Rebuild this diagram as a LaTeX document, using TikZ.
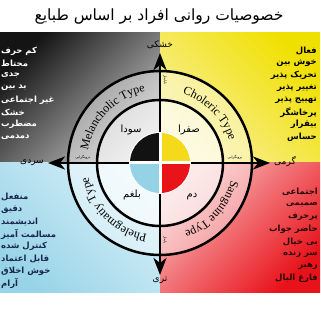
\documentclass[tikz,border=0pt]{standalone}
\usepackage{fontspec}
\usetikzlibrary{arrows.meta,decorations.text,calc}
\newfontfamily\fa[Script=Arabic]{DejaVu Sans}
\newfontfamily\tnr{Liberation Serif}
\TeXXeTstate=1
\definecolor{tlA}{HTML}{141414}
\definecolor{tlB}{HTML}{C4C4C4}
\definecolor{trA}{HTML}{F0E000}
\definecolor{trB}{HTML}{F9F0A0}
\definecolor{blA}{HTML}{98D4E8}
\definecolor{blB}{HTML}{D8F0F8}
\definecolor{brA}{HTML}{E8121A}
\definecolor{brB}{HTML}{F8BCBC}
\definecolor{dY}{HTML}{F4DA1A}
\definecolor{dB}{HTML}{96D2E6}
\definecolor{dR}{HTML}{E8141A}
\definecolor{navy}{HTML}{1A2850}
\definecolor{darkred}{HTML}{2A0808}
\tikzset{
  listfont/.style={font=\fa\bfseries\fontsize{8.5}{9}\selectfont, inner sep=0pt},
  axislabel/.style={font=\fa\fontsize{9}{10}\selectfont, inner sep=1pt},
  humour/.style={font=\fa\fontsize{10}{11}\selectfont, inner sep=1pt},
  tiny/.style={font=\fa\fontsize{3.6}{4}\selectfont, inner sep=0pt},
  ring/.style={line width=2.5pt},
  axisline/.style={line width=2.5pt, {Stealth[length=17pt,width=13pt,inset=5pt]}-{Stealth[length=17pt,width=13pt,inset=5pt]}},
  typename/.style={decorate, decoration={text along path, text align=center, text={|\tnr\fontsize{12}{13}\selectfont|#1}}},
}
\begin{document}
\begin{tikzpicture}[x=1pt,y=1pt]
\useasboundingbox (0,0) rectangle (320,320);
\fill[white] (0,0) rectangle (320,320);
\coordinate (C) at (160,157);
% quadrant backgrounds
\shade[top color=tlA, bottom color=tlB, shading angle=45] (0,157) rectangle (160,287);
\shade[top color=trA, bottom color=trB, shading angle=-45] (160,157) rectangle (320,287);
\shade[top color=blA, bottom color=blB, shading angle=135] (0,27) rectangle (160,157);
\shade[top color=brA, bottom color=brB, shading angle=-135] (160,27) rectangle (320,157);
% lighter rings
\fill[white, opacity=0.38] (C) circle (92);
\fill[white, opacity=0.5] (C) circle (63);
% title
\node (title) at (159,303) {\fa\fontsize{15.5}{16}\selectfont\beginR خصوصیات روانی افراد بر اساس طبایع\endR};
% axes
\coordinate (L) at (48,157);
\coordinate (R) at (270,157);
\coordinate (T) at (160,267);
\coordinate (B) at (160,45);
\draw[axisline] (L) -- (R);
\draw[axisline] (B) -- (T);
\draw[ring] (C) circle (92);
\draw[ring] (C) circle (63);
% inner disc
\fill[white] (C) circle (31);
\fill[black!93] (C) -- ++(90:30) arc[start angle=90, end angle=180, radius=30] -- cycle;
\fill[dY] (C) -- ++(0:30) arc[start angle=0, end angle=90, radius=30] -- cycle;
\fill[dB] (C) -- ++(180:30) arc[start angle=180, end angle=270, radius=30] -- cycle;
\fill[dR] (C) -- ++(270:30) arc[start angle=270, end angle=360, radius=30] -- cycle;
\draw[white, line width=3pt] ($(C)+(-31,0)$) -- ($(C)+(31,0)$);
\draw[white, line width=3pt] ($(C)+(0,-31)$) -- ($(C)+(0,31)$);
% axis labels
\node[axislabel] (dry) at (160,275) {\beginR خشکی\endR};
\node[axislabel] (wet) at (160,40) {\beginR تری\endR};
\node[axislabel] (cold) at (32,157) {\beginR سردی\endR};
\node[axislabel] (hot) at (285,158) {\beginR گرمی\endR};
% humour names
\node[humour] (sauda) at (131,190) {\beginR سودا\endR};
\node[humour] (safra) at (189,190) {\beginR صفرا\endR};
\node[humour] (balgham) at (132,125) {\beginR بلغم\endR};
\node[humour] (dam) at (192,123) {\beginR دم\endR};
% small labels
\node[tiny] (introL) at (83,163) {\beginR درونگرایی\endR};
\node[tiny] (extroR) at (235,163) {\beginR برونگرایی\endR};
\node[tiny, rotate=-90] (unst) at (165,240) {\beginR ناپایدار\endR};
\node[tiny, rotate=-90] (stab) at (165,80) {\beginR پایدار\endR};
% curved type names
\path[typename={Melancholic Type}] ($(C)+(174:73)$) arc[start angle=174, end angle=98, radius=73];
\path[typename={Choleric Type}] ($(C)+(84:73)$) arc[start angle=84, end angle=6, radius=73];
\path[typename={Sanguine Type}] ($(C)+(-3:73)$) arc[start angle=-3, end angle=-81, radius=73];
\path[typename={Phelegmatiy Type}] ($(C)+(264:73)$) arc[start angle=264, end angle=187, radius=73];
% lists
\foreach \t [count=\i] in {کم حرف, محتاط, جدی, بد بین, غیر اجتماعی, خشک, مضطرب, دمدمی}
  \node[listfont, text=white, anchor=west] (tl\i) at (1,{269-12.3*(\i-1)}) {\beginR\t\endR};
\foreach \t [count=\i] in {فعال, خوش بین, تحریک پذیر, تغییر پذیر, تهییج پذیر, پرخاشگر, بیقرار, حساس}
  \node[listfont, text=black, anchor=east] (tr\i) at (317,{269-12.3*(\i-1)}) {\beginR\t\endR};
\foreach \t [count=\i] in {منفعل, دقیق, اندیشمند, مسالمت آمیز, کنترل شده, قابل اعتماد, خوش اخلاق, آرام}
  \node[listfont, text=navy, anchor=west] (bl\i) at (1,{123-12.4*(\i-1)}) {\beginR\t\endR};
\foreach \t [count=\i] in {اجتماعی, صمیمی, پرحرف, حاضر جواب, بی خیال, سر زنده, رهبر, فارغ البال}
  \node[listfont, text=darkred, anchor=east] (br\i) at (318,{128-12.4*(\i-1)}) {\beginR\t\endR};
\end{tikzpicture}
\end{document}
